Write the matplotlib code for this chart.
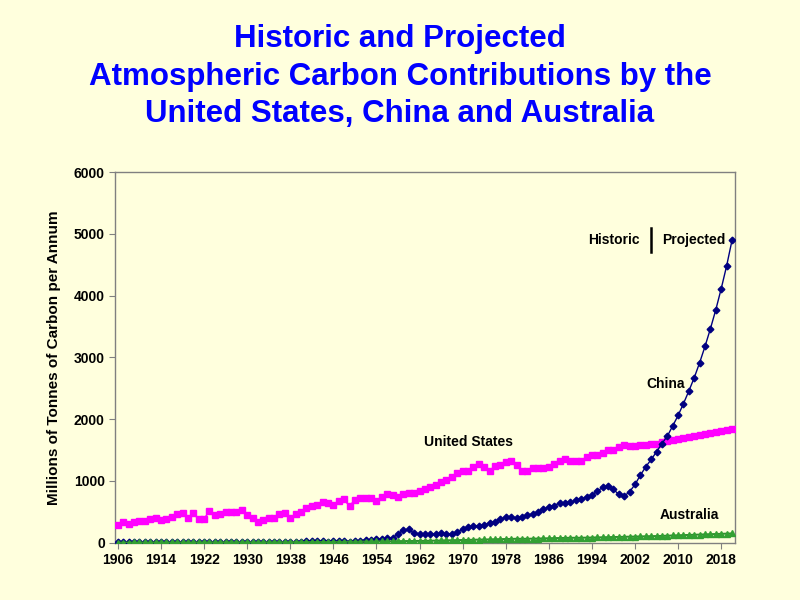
import numpy as np
import matplotlib
matplotlib.use("Agg")
import matplotlib.pyplot as plt

plt.rcParams['font.family'] = ['Liberation Sans', 'DejaVu Sans']

# years 1906..2020, one value per year
years = np.arange(1906, 2021)

united_states = [
    286, 329, 296, 329, 350, 350, 377, 404, 367, 377,
    420, 458, 485, 404, 474, 383, 383, 517, 447, 458,
    501, 490, 490, 528, 447, 404, 340, 367, 393, 393,
    458, 474, 404, 458, 501, 555, 593, 609, 652, 636,
    609, 679, 701, 593, 690, 717, 717, 717, 679, 744,
    782, 771, 744, 782, 798, 798, 830,
    868, 906, 932, 976, 1013, 1067, 1121, 1159, 1164, 1218,
    1267, 1218, 1164, 1240, 1256, 1299, 1321, 1256, 1164, 1164,
    1202, 1213, 1213, 1218, 1267, 1326, 1348, 1321, 1321, 1321,
    1391, 1418, 1428, 1445, 1509, 1509, 1542, 1590, 1568, 1574,
    1579, 1590, 1595, 1606, 1623, 1641, 1658, 1675, 1693, 1710,
    1728, 1745, 1762, 1780, 1797, 1814, 1832, 1849,
]

china = [
    5, 5, 5, 5, 5, 5, 6, 6, 6, 6,
    6, 6, 7, 7, 7, 7, 8, 8, 8, 8,
    9, 9, 9, 10, 10, 10, 11, 11, 12, 12,
    13, 14, 15, 17, 19, 21, 22, 22, 20, 18,
    20, 22, 24, 18, 21, 34, 43, 48, 52, 60,
    70, 80, 140, 205, 216, 150,
    140, 135, 140, 140, 151, 135, 140, 167, 221, 248,
    270, 275, 286, 323, 340, 377, 420, 420, 404, 420,
    447, 464, 501, 544, 582, 598, 647, 647, 652, 690,
    706, 744, 771, 835, 895, 916, 862, 782, 755, 825,
    943, 1094, 1229, 1348, 1471, 1606, 1725, 1892, 2060, 2253,
    2458, 2673, 2916, 3180, 3466, 3773, 4113, 4479, 4894,
]

australia = [
    3, 3, 3, 4, 4, 4, 4, 5, 5, 5,
    5, 5, 6, 6, 6, 6, 7, 7, 7, 7,
    8, 8, 8, 8, 8, 7, 7, 7, 8, 8,
    9, 9, 10, 10, 10, 11, 12, 12, 12, 12,
    13, 14, 15, 16, 17, 18, 19, 20, 21, 22,
    23, 24, 25, 26, 27, 28, 29, 30, 32, 34,
    36, 38, 40, 42, 44, 46, 48, 50, 52, 54,
    56, 58, 60, 62, 64, 64, 64, 66, 68, 70,
    72, 74, 76, 78, 80, 80, 81, 82, 84, 86,
    88, 90, 92, 94, 96, 98, 100, 102, 104, 106,
    108, 111, 114, 117, 120, 123, 126, 129, 132, 135,
    138, 141, 144, 147, 150,
]

x_ticks = list(range(1906, 2021, 8))
y_ticks = [0, 1000, 2000, 3000, 4000, 5000, 6000]

bg = '#FFFFDD'
fig = plt.figure(figsize=(8, 6), dpi=100, facecolor=bg)
ax = fig.add_axes([0.144, 0.0955, 0.775, 0.6175], facecolor=bg)

ax.plot(years, united_states, color='#FF00FF', lw=1.2, marker='s', ms=5,
        mfc='#FF00FF', mec='#FF00FF', zorder=3)
ax.plot(years, china, color='#000080', lw=1.0, marker='D', ms=3.4,
        mfc='#000080', mec='#000080', zorder=4)
# Australia sits on top of China near the baseline
ax.plot(years, australia, color='#2E8B2E', lw=1.4, marker='^', ms=4.5,
        mfc='#33A033', mec='#33A033', zorder=5)

ax.set_xlim(1905.5, 2020.6)
ax.set_ylim(0, 6000)
ax.set_xticks(x_ticks)
ax.set_yticks(y_ticks)
ax.tick_params(axis='both', labelsize=10, length=4, color='#808080', width=0.8)
for lab in ax.get_xticklabels() + ax.get_yticklabels():
    lab.set_fontweight('bold')
for sp in ax.spines.values():
    sp.set_color('#808080')
    sp.set_linewidth(1.0)

ax.set_ylabel('Millions of Tonnes of Carbon per Annum', fontsize=11,
              fontweight='bold', labelpad=9)

lab_kw = dict(fontsize=10, fontweight='bold', ha='center', va='center')
ax.text(1998, 4910, 'Historic', **lab_kw)
ax.text(2013, 4910, 'Projected', **lab_kw)
ax.plot([2005, 2005], [4700, 5090], color='black', lw=1.8)
ax.text(2007.7, 2570, 'China', **lab_kw)
ax.text(1971, 1630, 'United States', **lab_kw)
ax.text(2012, 450, 'Australia', **lab_kw)

title_kw = dict(color='#0000FF', fontsize=22.5, fontweight='bold',
                ha='center', va='center')
fig.text(0.5, 0.935, 'Historic and Projected', **title_kw)
fig.text(0.5, 0.872, 'Atmospheric Carbon Contributions by the', **title_kw)
fig.text(0.5, 0.81, 'United States, China and Australia', **title_kw)

fig.savefig('out.png', dpi=100, facecolor=bg)
